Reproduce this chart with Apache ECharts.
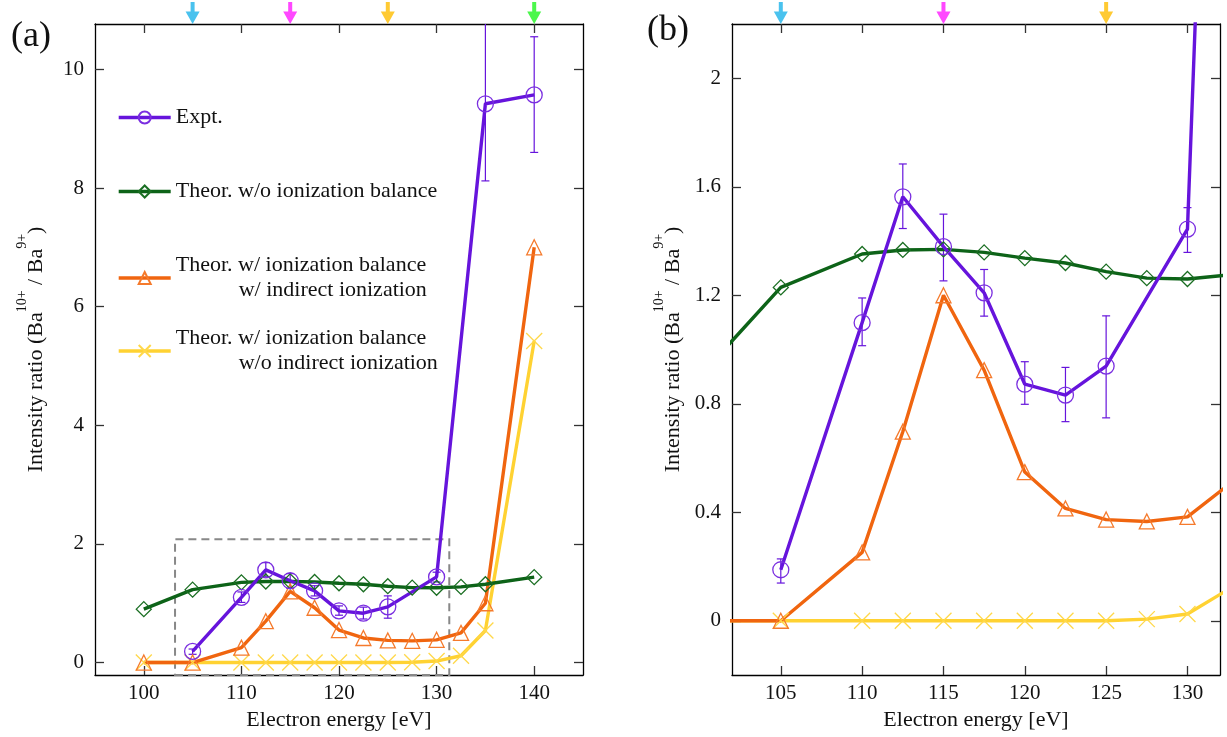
<!DOCTYPE html>
<html>
<head>
<meta charset="utf-8">
<script src="https://cdn.jsdelivr.net/npm/echarts@6/dist/echarts.min.js"></script>
<style>
  html, body { margin: 0; padding: 0; background: #fff; }
  #chart { width: 1227px; height: 737px; }
</style>
</head>
<body>
<div id="chart"></div>
<script>
// electron energies [eV]
const theoryEnergies = [100, 105, 110, 112.5, 115, 117.5, 120, 122.5, 125, 127.5, 130, 132.5, 135, 140]
const noBalance = [0.90, 1.229, 1.352, 1.367, 1.369, 1.358, 1.337, 1.319, 1.287, 1.263, 1.26, 1.275, 1.32, 1.44]
const withIndirect = [0, 0, 0.252, 0.697, 1.2, 0.924, 0.548, 0.414, 0.373, 0.366, 0.383, 0.50, 1.0, 7.0]
const noIndirect = [0, 0, 0, 0, 0, 0, 0, 0, 0, 0.006, 0.025, 0.115, 0.54, 5.42]

const exptEnergies = [105, 110, 112.5, 115, 117.5, 120, 122.5, 125, 130, 135, 140]
const expt = [0.188, 1.099, 1.563, 1.379, 1.209, 0.872, 0.832, 0.939, 1.444, 9.42, 9.57]
const exptLow = [0.139, 1.014, 1.446, 1.253, 1.123, 0.798, 0.734, 0.748, 1.358, 8.12, 8.6]
const exptHigh = [0.228, 1.19, 1.684, 1.499, 1.295, 0.955, 0.934, 1.124, 1.523, 11.5, 10.55]

const arrowEnergiesA = [105, 115, 125, 140]
const arrowColorsA = ['#1db3ea', '#ff1aff', '#ffbd00', '#1ff51f']
const arrowEnergiesB = [105, 115, 125]
const arrowColorsB = ['#1db3ea', '#ff1aff', '#ffbd00']

const xTicksA = [100, 110, 120, 130, 140]
const yTicksA = [0, 2, 4, 6, 8, 10]
const xTicksB = [105, 110, 115, 120, 125, 130]
const yTicksB = [0, 0.4, 0.8, 1.2, 1.6, 2]

const FONT = 'Liberation Serif'
const PURPLE = '#6614dc'
const GREEN = '#0d6318'
const ORANGE = '#f0650f'
const YELLOW = '#ffd232'

const names = {
  expt: 'Expt.',
  noBal: 'Theor. w/o ionization balance',
  withInd: 'Theor. w/ ionization balance w/ indirect ionization',
  noInd: 'Theor. w/ ionization balance w/o indirect ionization'
}

function pairs (xs, ys) {
  return xs.map((x, i) => [x, ys[i]])
}

function xAxes (grid, min, max, ticks) {
  const base = {
    type: 'value', gridIndex: grid, min: min, max: max,
    splitLine: { show: false },
    axisLine: { onZero: false, lineStyle: { color: '#000', width: 1.3 } },
    axisTick: { inside: true, length: 9, customValues: ticks, lineStyle: { color: '#333', width: 1.3 } }
  }
  return [
    Object.assign({}, base, {
      position: 'bottom',
      axisLabel: { customValues: ticks, margin: 8, fontSize: 21, color: '#111', fontFamily: FONT },
      name: 'Electron energy [eV]', nameLocation: 'middle', nameGap: 34,
      nameTextStyle: { fontSize: 22, color: '#111', fontFamily: FONT }
    }),
    Object.assign({}, base, { position: 'top', axisLabel: { show: false } })
  ]
}

function yAxes (grid, min, max, ticks) {
  const base = {
    type: 'value', gridIndex: grid, min: min, max: max,
    splitLine: { show: false },
    axisLine: { onZero: false, lineStyle: { color: '#000', width: 1.3 } },
    axisTick: { inside: true, length: 9, customValues: ticks, lineStyle: { color: '#333', width: 1.3 } }
  }
  return [
    Object.assign({}, base, {
      position: 'left',
      axisLabel: { customValues: ticks, margin: 11, fontSize: 21, color: '#111', fontFamily: FONT },
      name: '{n|Intensity ratio (Ba}{s|10+}{n| / Ba}{s|9+}{n|)}',
      nameLocation: 'middle', nameRotate: 90, nameGap: 48,
      nameTextStyle: {
        rich: {
          n: { fontSize: 22, color: '#111', fontFamily: FONT, verticalAlign: 'bottom', lineHeight: 32 },
          s: { fontSize: 14, color: '#111', fontFamily: FONT, verticalAlign: 'top', lineHeight: 32 }
        }
      }
    }),
    Object.assign({}, base, { position: 'right', axisLabel: { show: false } })
  ]
}

function lineSeries (name, xs, ys, axis, color, markerColor, symbol, size) {
  return {
    name: name, type: 'line', xAxisIndex: axis, yAxisIndex: axis,
    data: pairs(xs, ys),
    symbol: symbol, symbolSize: size, showAllSymbol: true,
    lineStyle: { color: color, width: 3.4 },
    itemStyle: { color: 'rgba(0,0,0,0)', borderColor: markerColor, borderWidth: 1.3 },
    emphasis: { disabled: true },
    animation: false,
    clip: true
  }
}

function errorBars (axis) {
  return {
    name: names.expt, type: 'custom', xAxisIndex: axis, yAxisIndex: axis,
    data: exptEnergies.map((e, i) => [e, exptLow[i], exptHigh[i]]),
    encode: { x: 0, y: [1, 2] },
    z: 3,
    renderItem: function (params, api) {
      const cs = params.coordSys
      const lo = api.coord([api.value(0), api.value(1)])
      const hi = api.coord([api.value(0), api.value(2)])
      const x = lo[0]
      if (x < cs.x || x > cs.x + cs.width) return
      const top = Math.max(hi[1], cs.y)
      const bot = Math.min(lo[1], cs.y + cs.height)
      const st = { stroke: PURPLE, lineWidth: 1.2 }
      const children = [{ type: 'line', shape: { x1: x, y1: top, x2: x, y2: bot }, style: st }]
      if (hi[1] >= cs.y) children.push({ type: 'line', shape: { x1: x - 4, y1: hi[1], x2: x + 4, y2: hi[1] }, style: st })
      if (lo[1] <= cs.y + cs.height) children.push({ type: 'line', shape: { x1: x - 4, y1: lo[1], x2: x + 4, y2: lo[1] }, style: st })
      return { type: 'group', children: children }
    }
  }
}

function arrows (axis, xs, colors, ymax) {
  return {
    type: 'scatter', xAxisIndex: axis, yAxisIndex: axis,
    data: xs.map((x, i) => ({ value: [x, ymax], itemStyle: { color: colors[i] } })),
    symbol: 'path://M5,0 L9,0 L9,10 L14,10 L7,23 L0,10 L5,10 Z',
    symbolSize: [14, 22], symbolOffset: [0, -11],
    clip: false, silent: true, animation: false
  }
}

const CROSS = 'path://M0,0 L10,10 M10,0 L0,10'

function panelSeries (axis) {
  return [
    lineSeries(names.noInd, theoryEnergies, noIndirect, axis, YELLOW, '#ffd84a', CROSS, 16),
    lineSeries(names.withInd, theoryEnergies, withIndirect, axis, ORANGE, '#f57a2c', 'triangle', 15),
    lineSeries(names.noBal, theoryEnergies, noBalance, axis, GREEN, '#1a6e22', 'diamond', 15),
    lineSeries(names.expt, exptEnergies, expt, axis, PURPLE, '#7a2ee0', 'circle', 16),
    errorBars(axis)
  ]
}

const seriesA = panelSeries(0)
seriesA[0].markArea = {
  silent: true,
  itemStyle: { color: 'rgba(0,0,0,0)', borderColor: '#888', borderWidth: 2, borderType: [8, 5] },
  data: [[{ coord: [103.2, -0.21] }, { coord: [131.3, 2.08] }]]
}
seriesA.push(arrows(0, arrowEnergiesA, arrowColorsA, 10.765))
const seriesB = panelSeries(2)
seriesB.push(arrows(2, arrowEnergiesB, arrowColorsB, 2.2))

function legendAt (name, top, text) {
  return {
    data: [name], left: 117, top: top, orient: 'vertical',
    padding: 0, itemWidth: 52, itemHeight: 15,
    selectedMode: false,
    lineStyle: { width: 3.4 },
    textStyle: { fontSize: 22, color: '#111', fontFamily: FONT, lineHeight: 25,
      rich: { i: { fontSize: 22, color: '#111', fontFamily: FONT, lineHeight: 25, padding: [0, 0, 0, 63] } } },
    formatter: function () { return text }
  }
}

const chart = echarts.init(document.getElementById('chart'))
chart.setOption({
  animation: false,
  textStyle: { fontFamily: FONT },
  title: [
    { text: '(a)', left: 6, top: 14, textStyle: { fontSize: 36, fontWeight: 'normal', color: '#111', fontFamily: FONT } },
    { text: '(b)', left: 642, top: 8, textStyle: { fontSize: 36, fontWeight: 'normal', color: '#111', fontFamily: FONT } }
  ],
  grid: [
    { left: 95, top: 24, width: 488, height: 651 },
    { left: 732, top: 24, width: 488, height: 651 }
  ],
  xAxis: [].concat(xAxes(0, 95, 145, xTicksA), xAxes(1, 102, 132, xTicksB)),
  yAxis: [].concat(yAxes(0, -0.21, 10.765, yTicksA), yAxes(1, -0.2, 2.2, yTicksB)),
  legend: [
    legendAt(names.expt, 105, 'Expt.'),
    legendAt(names.noBal, 179, 'Theor. w/o ionization balance'),
    legendAt(names.withInd, 253, 'Theor. w/ ionization balance\n{i|w/ indirect ionization}'),
    legendAt(names.noInd, 326, 'Theor. w/ ionization balance\n{i|w/o indirect ionization}')
  ],
  series: seriesA.concat(seriesB)
})
</script>
</body>
</html>
